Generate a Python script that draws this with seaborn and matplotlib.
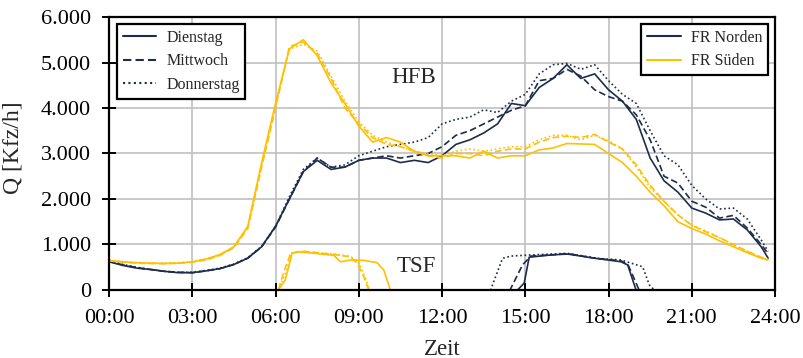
import numpy as np
import pandas as pd
import matplotlib
matplotlib.use("Agg")
import matplotlib.pyplot as plt
from matplotlib.lines import Line2D
from matplotlib.ticker import FuncFormatter, MultipleLocator
import seaborn as sns

# --- Daten -----------------------------------------------------------------
# Zeitraster der Hauptfahrbahn (HFB), Stunden
hours_hfb = np.append(np.arange(0, 23.51, 0.5), 23.75)

# HFB, Fahrtrichtung Norden [Kfz/h]
hfb_nord_di = [620, 540, 480, 450, 410, 380, 380, 420, 470, 560, 700, 950,
               1400, 2000, 2600, 2850, 2650, 2700, 2850, 2900, 2900, 2800,
               2850, 2800, 2950, 3200, 3300, 3450, 3650, 4100, 4050, 4450,
               4650, 4950, 4650, 4750, 4400, 4150, 3750, 2900, 2400, 2150,
               1800, 1690, 1540, 1560, 1320, 950, 700]
hfb_nord_mi = [630, 550, 490, 450, 410, 390, 380, 420, 470, 560, 700, 950,
               1380, 2000, 2600, 2900, 2700, 2700, 2850, 2900, 2950, 2900,
               2950, 3000, 3150, 3400, 3500, 3650, 3800, 3950, 4050, 4600,
               4650, 4850, 4700, 4400, 4250, 4150, 3850, 3300, 2500, 2350,
               1950, 1820, 1580, 1640, 1360, 1000, 800]
hfb_nord_do = [640, 560, 500, 450, 410, 390, 390, 430, 480, 570, 710, 960,
               1400, 2050, 2650, 2900, 2700, 2750, 2950, 3050, 3150, 3200,
               3250, 3350, 3650, 3750, 3800, 3960, 3900, 4150, 4300, 4750,
               4950, 4980, 4850, 4950, 4600, 4300, 4100, 3500, 2950, 2750,
               2300, 2000, 1780, 1800, 1560, 1100, 850]

# HFB, Fahrtrichtung Süden [Kfz/h]
hfb_sued_di = [650, 620, 600, 590, 580, 590, 620, 680, 780, 950, 1400, 2800,
               4100, 5300, 5500, 5150, 4550, 4100, 3600, 3250, 3350, 3250,
               3050, 2950, 2950, 2950, 2900, 3050, 2900, 2950, 2950, 3080,
               3120, 3220, 3210, 3200, 3000, 2800, 2500, 2150, 1850, 1500,
               1350, 1230, 1080, 950, 820, 700, 660]
hfb_sued_mi = [640, 610, 590, 580, 580, 590, 610, 660, 760, 930, 1350, 2700,
               4000, 5350, 5450, 5200, 4650, 4000, 3650, 3350, 3200, 3150,
               3050, 2950, 2900, 3000, 3000, 2950, 3050, 3100, 3100, 3250,
               3350, 3380, 3350, 3420, 3250, 3100, 2750, 2300, 1950, 1650,
               1420, 1280, 1150, 1000, 850, 720, 670]
hfb_sued_do = [660, 620, 600, 590, 590, 600, 620, 680, 770, 940, 1380, 2750,
               4050, 5300, 5400, 5250, 4700, 4150, 3700, 3400, 3250, 3150,
               3050, 3000, 2950, 3050, 3100, 3050, 3100, 3150, 3150, 3300,
               3400, 3400, 3300, 3400, 3280, 3100, 2700, 2250, 1950, 1650,
               1430, 1300, 1150, 990, 850, 700, 660]

# Temporär freigegebener Seitenstreifen (TSF): Zeitpunkte und Belastung
tsf_nord_di_t = [0, 14.72, 14.96, 15.14, 15.92, 16.52, 17.48, 18.45, 18.69, 18.99, 24]
tsf_nord_di = [0, 0, 150, 720, 770, 790, 700, 620, 550, 0, 0]
tsf_nord_mi_t = [0, 14.45, 14.9, 15.2, 15.92, 16.52, 17.48, 18.45, 18.7, 19.1, 24]
tsf_nord_mi = [0, 0, 550, 745, 770, 800, 700, 640, 560, 0, 0]
tsf_nord_do_t = [0, 13.75, 14.18, 14.48, 15.2, 16.52, 17.6, 18.45, 19.23, 19.47, 19.65, 24]
tsf_nord_do = [0, 0, 695, 745, 770, 805, 695, 660, 510, 110, 0, 0]

tsf_sued_di_t = [0, 6.1, 6.35, 6.6, 6.8, 7.5, 8.1, 8.34, 8.7, 9.18, 9.66, 9.9, 10.14, 24]
tsf_sued_di = [0, 0, 220, 810, 840, 800, 760, 620, 660, 650, 600, 440, 0, 0]
tsf_sued_mi_t = [0, 6.1, 6.3, 6.55, 7.0, 7.5, 8.1, 8.7, 8.94, 9.18, 9.36, 24]
tsf_sued_mi = [0, 0, 400, 810, 850, 820, 780, 730, 590, 290, 0, 0]
tsf_sued_do_t = [0, 6.1, 6.35, 6.6, 7.0, 7.5, 8.1, 8.7, 9.0, 9.25, 9.4, 24]
tsf_sued_do = [0, 0, 350, 820, 850, 820, 790, 740, 600, 250, 0, 0]

richtungen = ["FR Norden", "FR Süden"]
tage = ["Dienstag", "Mittwoch", "Donnerstag"]
x_ticks = list(range(0, 25, 3))
x_tick_labels = [f"{h:02d}:00" for h in x_ticks]

# --- Langformat für seaborn ------------------------------------------------
serien = [
    ("FR Norden", "Dienstag", "HFB", hours_hfb, hfb_nord_di),
    ("FR Norden", "Mittwoch", "HFB", hours_hfb, hfb_nord_mi),
    ("FR Norden", "Donnerstag", "HFB", hours_hfb, hfb_nord_do),
    ("FR Süden", "Dienstag", "HFB", hours_hfb, hfb_sued_di),
    ("FR Süden", "Mittwoch", "HFB", hours_hfb, hfb_sued_mi),
    ("FR Süden", "Donnerstag", "HFB", hours_hfb, hfb_sued_do),
    ("FR Norden", "Dienstag", "TSF", tsf_nord_di_t, tsf_nord_di),
    ("FR Norden", "Mittwoch", "TSF", tsf_nord_mi_t, tsf_nord_mi),
    ("FR Norden", "Donnerstag", "TSF", tsf_nord_do_t, tsf_nord_do),
    ("FR Süden", "Dienstag", "TSF", tsf_sued_di_t, tsf_sued_di),
    ("FR Süden", "Mittwoch", "TSF", tsf_sued_mi_t, tsf_sued_mi),
    ("FR Süden", "Donnerstag", "TSF", tsf_sued_do_t, tsf_sued_do),
]
frames = []
for richtung, tag, streifen, t, q in serien:
    frames.append(pd.DataFrame({
        "Zeit": np.asarray(t, dtype=float),
        "Q": np.asarray(q, dtype=float),
        "Richtung": richtung,
        "Tag": tag,
        "Abschnitt": f"{richtung}-{tag}-{streifen}",
    }))
df = pd.concat(frames, ignore_index=True)

# --- Darstellung -----------------------------------------------------------
sns.set_style("ticks")
plt.rcParams["font.family"] = ["Liberation Serif", "DejaVu Serif"]

navy = "#1f2b4a"
gelb = "#ffc000"
palette = {"FR Norden": navy, "FR Süden": gelb}
dashes = {"Dienstag": "", "Mittwoch": (4, 2), "Donnerstag": (1, 1.6)}
legend_ls = {"Dienstag": "-", "Mittwoch": (0, (4, 2)), "Donnerstag": (0, (1, 1.6))}

fig = plt.figure(figsize=(8.04, 3.58), dpi=100)
ax = fig.add_axes([0.1356, 0.19, 0.8284, 0.7625])

sns.lineplot(data=df, x="Zeit", y="Q", hue="Richtung", style="Tag",
             units="Abschnitt", estimator=None, sort=False,
             hue_order=richtungen, style_order=tage,
             palette=palette, dashes=dashes, linewidth=1.2,
             legend=False, ax=ax)

ax.set_xlim(0, 24)
ax.set_ylim(0, 6000)
ax.set_xticks(x_ticks)
ax.set_xticklabels(x_tick_labels)
ax.yaxis.set_major_locator(MultipleLocator(1000))
ax.yaxis.set_major_formatter(FuncFormatter(lambda v, _: f"{v:,.0f}".replace(",", ".")))
ax.grid(True, color="#c0c0c0", linewidth=1.2)
ax.set_axisbelow(True)
for s in ax.spines.values():
    s.set_visible(True)
    s.set_color("black")
    s.set_linewidth(1.6)
ax.tick_params(axis="both", direction="inout", length=10, width=1.4,
               labelsize=16, colors="black")
ax.tick_params(axis="y", pad=8)
ax.tick_params(axis="x", pad=9)
ax.set_xlabel("Zeit", fontsize=16.5)
ax.set_ylabel("Q [Kfz/h]", fontsize=17)
ax.xaxis.set_label_coords(0.5, -0.178)
ax.yaxis.set_label_coords(-0.128, 0.52)

ax.text(10.96, 4660, "HFB", ha="center", va="center", fontsize=16.5)
ax.text(11.08, 520, "TSF", ha="center", va="center", fontsize=16.5)

# Legende: Wochentage (Linienart)
legend_kw = dict(borderaxespad=0, fontsize=11.5, frameon=True, fancybox=False,
                 framealpha=1, edgecolor="black", handlelength=2.1, borderpad=0.35,
                 labelspacing=0.48, handletextpad=0.65)
tag_handles = [Line2D([], [], color=navy, linewidth=1.5, linestyle=legend_ls[t]) for t in tage]
leg1 = ax.legend(tag_handles, tage, loc="upper left", bbox_to_anchor=(0.012, 0.974), **legend_kw)
leg1.get_frame().set_linewidth(1.6)
ax.add_artist(leg1)

# Legende: Fahrtrichtung (Farbe)
ri_handles = [Line2D([], [], color=palette[r], linewidth=1.5) for r in richtungen]
leg2 = ax.legend(ri_handles, richtungen, loc="upper right", bbox_to_anchor=(0.9895, 0.974), **legend_kw)
leg2.get_frame().set_linewidth(1.6)

fig.savefig("out.png", dpi=100)
